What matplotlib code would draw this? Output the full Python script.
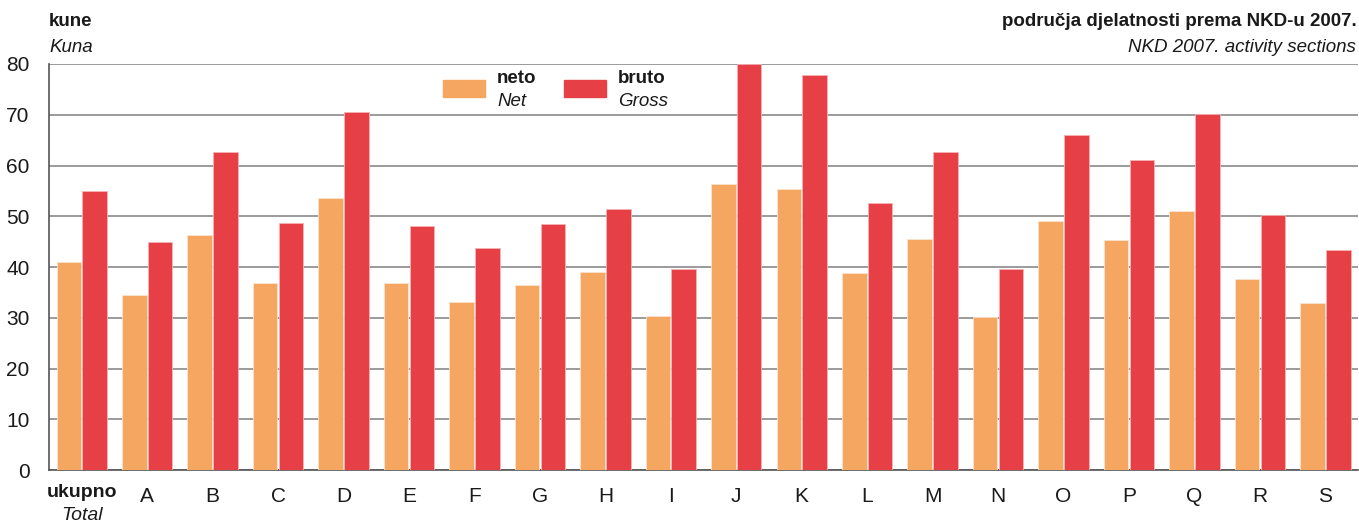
import numpy as np
import matplotlib.pyplot as plt
from matplotlib.patches import Rectangle

plt.rcParams['font.family'] = ['Liberation Sans Narrow', 'Liberation Sans', 'DejaVu Sans']

# Data
categories = ['ukupno', 'A', 'B', 'C', 'D', 'E', 'F', 'G', 'H', 'I',
              'J', 'K', 'L', 'M', 'N', 'O', 'P', 'Q', 'R', 'S']
neto = [41.0, 34.5, 46.3, 36.8, 53.6, 36.8, 33.1, 36.5, 39.0, 30.3,
        56.4, 55.4, 38.8, 45.5, 30.1, 49.1, 45.3, 51.0, 37.6, 32.9]
bruto = [55.0, 44.9, 62.7, 48.7, 70.5, 48.1, 43.7, 48.5, 51.4, 39.6,
         80.0, 77.8, 52.6, 62.7, 39.6, 66.0, 61.1, 70.1, 50.2, 43.3]
yticks = [0, 10, 20, 30, 40, 50, 60, 70, 80]

c_neto = '#F5A660'
c_bruto = '#E64046'
txt = '#1a1a1a'
fs = 13.5

fig = plt.figure(figsize=(13.59, 5.22), dpi=100)
ax = fig.add_axes([0.0361, 0.0996, 0.9632, 0.7778])

x = np.arange(len(categories))
w = 0.375
ax.bar(x - w / 2 - 0.01, neto, w, color=c_neto, edgecolor='#fbe3cf', linewidth=0.6, zorder=3)
ax.bar(x + w / 2 + 0.01, bruto, w, color=c_bruto, edgecolor='#f6b3b3', linewidth=0.6, zorder=3)

ax.set_xlim(-0.5, len(categories) - 0.5)
ax.set_ylim(0, 80)
ax.set_yticks(yticks)
ax.yaxis.grid(True, color='#8a8a8a', linewidth=1.2, zorder=0)
ax.set_axisbelow(True)
for s in ['top', 'right']:
    ax.spines[s].set_visible(False)
for s in ['left', 'bottom']:
    ax.spines[s].set_color('#555555')
    ax.spines[s].set_linewidth(1.2)
ax.tick_params(axis='y', length=0, pad=14, labelsize=15, labelcolor=txt)
ax.tick_params(axis='x', length=0, pad=12, labelsize=15, labelcolor=txt)
ax.set_xticks(x)
ax.set_xticklabels([''] + categories[1:])

# first category label, two lines
ax.text(0, -0.035, 'ukupno', transform=ax.get_xaxis_transform(), ha='center', va='top',
        fontsize=fs + 0.5, fontweight='bold', color=txt)
ax.text(0, -0.09, 'Total', transform=ax.get_xaxis_transform(), ha='center', va='top',
        fontsize=fs + 0.5, style='italic', color=txt)

# headers
fig.text(0.0361, 0.975, 'kune', ha='left', va='top', fontsize=fs, fontweight='bold', color=txt)
fig.text(0.0361, 0.925, 'Kuna', ha='left', va='top', fontsize=fs, style='italic', color=txt)
fig.text(0.998, 0.975, 'područja djelatnosti prema NKD-u 2007.', ha='right', va='top',
         fontsize=fs, fontweight='bold', color=txt)
fig.text(0.998, 0.925, 'NKD 2007. activity sections', ha='right', va='top',
         fontsize=fs, style='italic', color=txt)

# legend
fig.patches.append(Rectangle((443 / 1359, 1 - 97 / 522), 42 / 1359, 17 / 522,
                             transform=fig.transFigure, color=c_neto))
fig.patches.append(Rectangle((564 / 1359, 1 - 97 / 522), 42 / 1359, 17 / 522,
                             transform=fig.transFigure, color=c_bruto))
fig.text(497 / 1359, 1 - 70 / 522, 'neto', ha='left', va='top', fontsize=fs, fontweight='bold', color=txt)
fig.text(497 / 1359, 1 - 93 / 522, 'Net', ha='left', va='top', fontsize=fs, style='italic', color=txt)
fig.text(618 / 1359, 1 - 70 / 522, 'bruto', ha='left', va='top', fontsize=fs, fontweight='bold', color=txt)
fig.text(618 / 1359, 1 - 93 / 522, 'Gross', ha='left', va='top', fontsize=fs, style='italic', color=txt)

fig.savefig('out.png', dpi=100)
